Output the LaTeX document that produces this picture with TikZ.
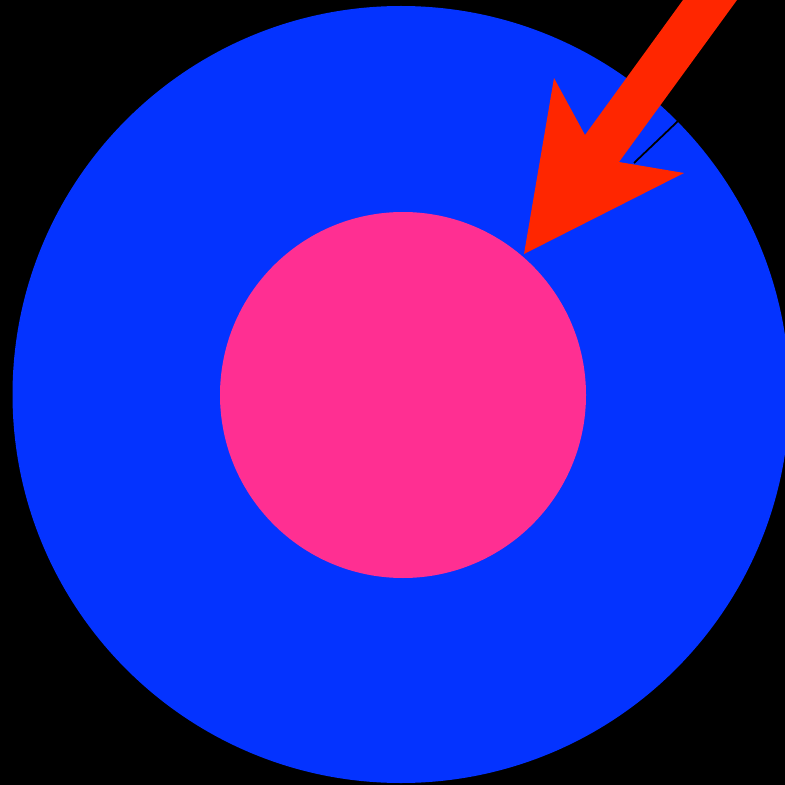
\documentclass[tikz,border=0pt]{standalone}
\usepackage{tikz}
\usetikzlibrary{positioning}
\definecolor{targetBlue}{HTML}{0433FF}
\definecolor{targetPink}{HTML}{FF2F92}
\definecolor{arrowRed}{HTML}{FF2600}

\begin{document}
\begin{tikzpicture}[
    x=0.01cm, y=-0.01cm,
    ring/.style={
        fill=targetBlue,
        draw=none
    },
    bullseye/.style={
        fill=targetPink,
        draw=none
    },
    pointer/.style={
        fill=arrowRed,
        draw=none
    },
    thinline/.style={
        draw=black,
        line width=0.5pt
    }
]

% Background and frame
\fill[black] (0,0) rectangle (785,785);
\useasboundingbox (0,0) rectangle (785,785);

% Target
\coordinate (centre) at (401,394.5);
\fill[ring] (centre) circle (388.5);
\fill[bullseye] (403,395) circle (183);

% Thin line under the arrow
\coordinate (rim) at (678,121);
\coordinate (back) at (634,163);
\draw[thinline] (rim) -- (back);

% Arrow
\fill[pointer] (683,0) -- (585,135) -- (554,78) -- (524,254)
    -- (684,173) -- (619,162) -- (737,0) -- cycle;

\end{tikzpicture}
\end{document}
